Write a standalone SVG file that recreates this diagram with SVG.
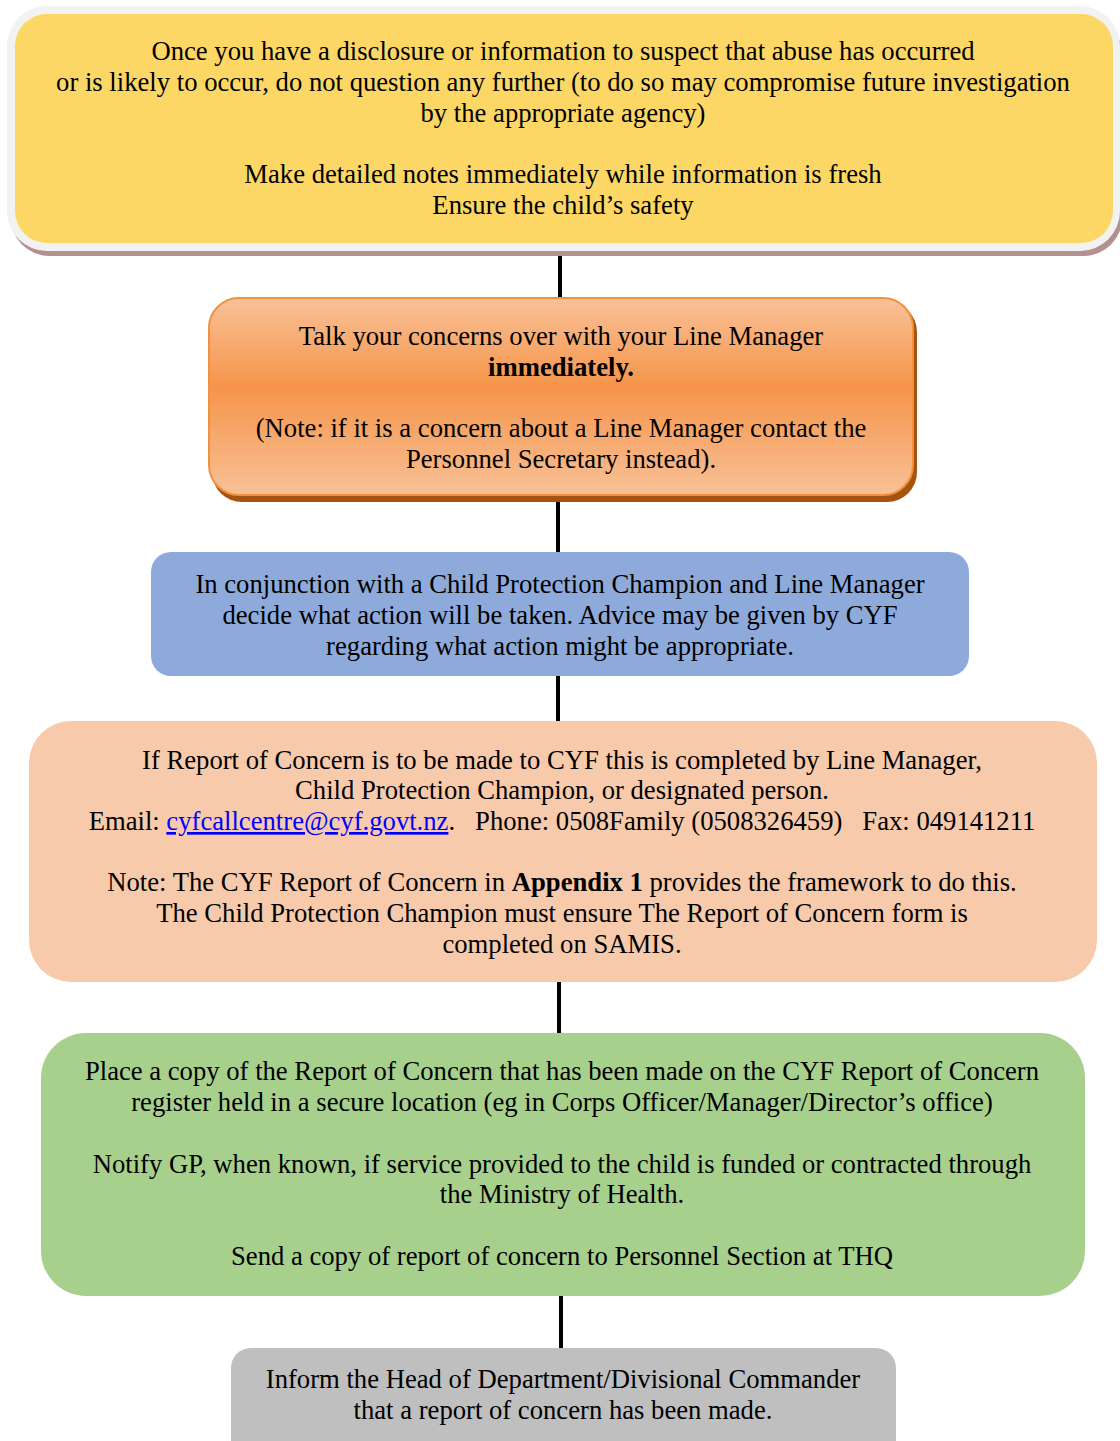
<svg xmlns="http://www.w3.org/2000/svg" width="1120" height="1441" viewBox="0 0 1120 1441">
<defs>
<linearGradient id="og" x1="0" y1="0" x2="0" y2="1">
<stop offset="0" stop-color="#F9C197"/>
<stop offset="0.45" stop-color="#F5944A"/>
<stop offset="1" stop-color="#F8C196"/>
</linearGradient>
<style>
text{font-family:"Liberation Serif","Times New Roman",serif;font-size:26.67px;fill:#000;text-anchor:middle}
.b{font-weight:bold}
.lnk{fill:#0000FF;text-decoration:underline}
.con line{stroke:#000;stroke-width:4}
</style>
</defs>
<rect width="1120" height="1441" fill="#fff"/>
<g class="con" id="connectors">
<line x1="560" y1="250" x2="560" y2="299"/>
<line x1="558" y1="500" x2="558" y2="553"/>
<line x1="558" y1="675" x2="558" y2="722"/>
<line x1="559" y1="981" x2="559" y2="1034"/>
<line x1="561" y1="1295" x2="561" y2="1349"/>
</g>
<g id="n1">
<rect x="11" y="16" width="1111" height="240" rx="38" fill="#B39191"/>
<rect x="7" y="6" width="1113" height="245" rx="40" fill="#F2F2F2"/>
<rect x="15" y="14" width="1098" height="229" rx="32" fill="#FDD766"/>
<text x="563" y="60">Once you have a disclosure or information to suspect that abuse has occurred</text>
<text x="563" y="91">or is likely to occur, do not question any further (to do so may compromise future investigation</text>
<text x="563" y="122">by the appropriate agency)</text>
<text x="563" y="183">Make detailed notes immediately while information is fresh</text>
<text x="563" y="214">Ensure the child’s safety</text>
</g>
<g id="n2">
<rect x="212" y="302" width="705" height="200" rx="30" fill="#A5540F"/>
<rect x="209" y="298" width="704" height="197" rx="30" fill="url(#og)" stroke="#F0913F" stroke-width="2"/>
<text x="561" y="345">Talk your concerns over with your Line Manager</text>
<text x="561" y="376" class="b">immediately.</text>
<text x="561" y="437">(Note: if it is a concern about a Line Manager contact the</text>
<text x="561" y="468">Personnel Secretary instead).</text>
</g>
<g id="n3">
<rect x="151" y="552" width="818" height="124" rx="20" fill="#8EAADB"/>
<text x="560" y="593">In conjunction with a Child Protection Champion and Line Manager</text>
<text x="560" y="624">decide what action will be taken. Advice may be given by CYF</text>
<text x="560" y="655">regarding what action might be appropriate.</text>
</g>
<g id="n4">
<rect x="29" y="721" width="1068" height="261" rx="42" fill="#F7CAAC"/>
<text x="562" y="769">If Report of Concern is to be made to CYF this is completed by Line Manager,</text>
<text x="562" y="799">Child Protection Champion, or designated person.</text>
<text x="562" y="830" xml:space="preserve">Email: <tspan class="lnk">cyfcallcentre@cyf.govt.nz</tspan>.   Phone: 0508Family (0508326459)   Fax: 049141211</text>
<text x="562" y="891">Note: The CYF Report of Concern in <tspan class="b">Appendix 1</tspan> provides the framework to do this.</text>
<text x="562" y="922">The Child Protection Champion must ensure The Report of Concern form is</text>
<text x="562" y="953">completed on SAMIS.</text>
</g>
<g id="n5">
<rect x="41" y="1033" width="1044" height="263" rx="45" fill="#A8D08D"/>
<text x="562" y="1080">Place a copy of the Report of Concern that has been made on the CYF Report of Concern</text>
<text x="562" y="1111">register held in a secure location (eg in Corps Officer/Manager/Director’s office)</text>
<text x="562" y="1173">Notify GP, when known, if service provided to the child is funded or contracted through</text>
<text x="562" y="1203">the Ministry of Health.</text>
<text x="562" y="1265">Send a copy of report of concern to Personnel Section at THQ</text>
</g>
<g id="n6">
<rect x="231" y="1348" width="665" height="120" rx="20" fill="#BFBFBF"/>
<text x="563" y="1388">Inform the Head of Department/Divisional Commander</text>
<text x="563" y="1419">that a report of concern has been made.</text>
</g>
</svg>
